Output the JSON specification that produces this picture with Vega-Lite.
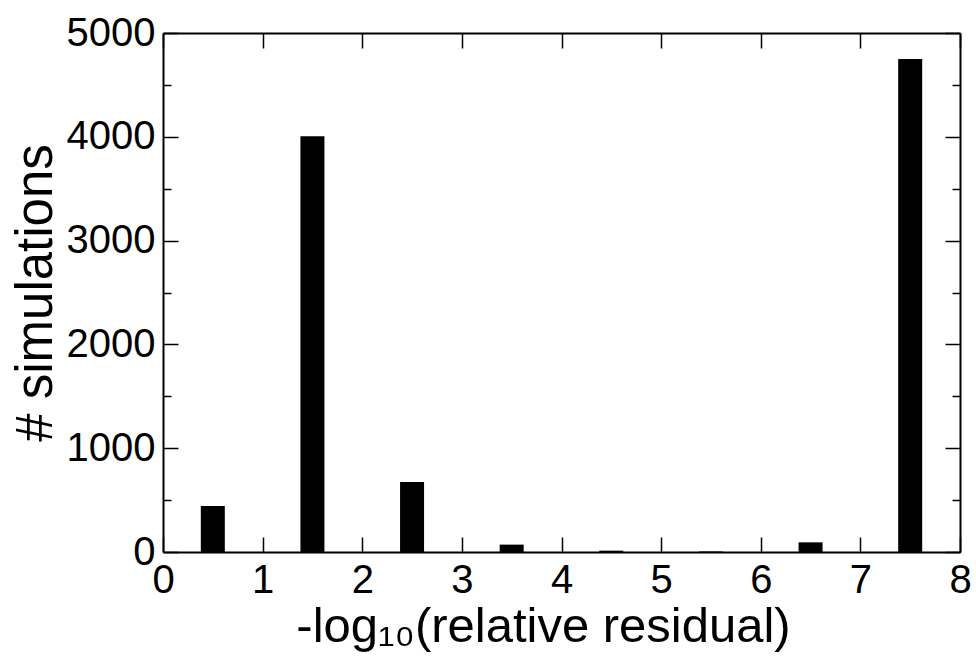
{
  "$schema": "https://vega.github.io/schema/vega-lite/v6.json",
  "width": 797,
  "height": 519,
  "autosize": {"type": "none"},
  "padding": {"left": 163, "top": 33, "right": 16, "bottom": 112},
  "background": "white",
  "data": {
    "values": [
      {"residual": 0.5, "count": 443},
      {"residual": 1.5, "count": 4005},
      {"residual": 2.5, "count": 675},
      {"residual": 3.5, "count": 71},
      {"residual": 4.5, "count": 13},
      {"residual": 5.5, "count": 5},
      {"residual": 6.5, "count": 93},
      {"residual": 7.5, "count": 4749}
    ]
  },
  "config": {
    "view": {"stroke": null},
    "font": "Liberation Sans",
    "axis": {
      "grid": false,
      "domainColor": "#000",
      "domainWidth": 2,
      "tickColor": "#000",
      "tickWidth": 1.5,
      "labelColor": "#000",
      "titleColor": "#000",
      "titleFontWeight": "normal"
    }
  },
  "layer": [
    {
      "mark": {"type": "bar", "width": 24, "color": "#000"},
      "encoding": {
        "x": {
          "field": "residual",
          "type": "quantitative",
          "scale": {"domain": [0, 8], "nice": false, "zero": false, "padding": 0},
          "axis": {
            "orient": "bottom",
            "values": [0, 1, 2, 3, 4, 5, 6, 7, 8],
            "format": "d",
            "tickSize": -15,
            "labelFontSize": 40,
            "labelPadding": 23,
            "labelFlush": false,
            "labelOverlap": false,
            "title": "-log₁₀(relative residual)",
            "titleFontSize": 49,
            "titlePadding": 2,
            "titleX": 380
          }
        },
        "y": {
          "field": "count",
          "type": "quantitative",
          "scale": {"domain": [0, 5000], "nice": false, "padding": 0},
          "axis": {
            "orient": "left",
            "values": [0, 1000, 2000, 3000, 4000, 5000],
            "format": "d",
            "tickSize": -15,
            "labelFontSize": 40,
            "labelPadding": 23,
            "labelFlush": false,
            "labelOverlap": false,
            "title": "# simulations",
            "titleFontSize": 51,
            "titlePadding": 4
          }
        }
      }
    },
    {
      "mark": {"type": "point", "opacity": 0},
      "encoding": {
        "x": {
          "field": "residual",
          "type": "quantitative",
          "axis": {
            "orient": "top",
            "values": [0, 1, 2, 3, 4, 5, 6, 7, 8],
            "tickSize": -15,
            "labels": false,
            "title": null
          }
        },
        "y": {
          "field": "count",
          "type": "quantitative",
          "axis": {
            "orient": "right",
            "values": [0, 1000, 2000, 3000, 4000, 5000],
            "tickSize": -15,
            "labels": false,
            "title": null
          }
        }
      }
    },
    {
      "mark": {"type": "point", "opacity": 0},
      "encoding": {
        "x": {
          "field": "residual",
          "type": "quantitative",
          "axis": null
        },
        "y": {
          "field": "count",
          "type": "quantitative",
          "axis": {
            "orient": "left",
            "values": [500, 1500, 2500, 3500, 4500],
            "tickSize": -8,
            "domain": false,
            "labels": false,
            "title": null
          }
        }
      }
    },
    {
      "mark": {"type": "point", "opacity": 0},
      "encoding": {
        "x": {
          "field": "residual",
          "type": "quantitative",
          "axis": null
        },
        "y": {
          "field": "count",
          "type": "quantitative",
          "axis": {
            "orient": "right",
            "values": [500, 1500, 2500, 3500, 4500],
            "tickSize": -8,
            "domain": false,
            "labels": false,
            "title": null
          }
        }
      }
    }
  ],
  "resolve": {"axis": {"x": "independent", "y": "independent"}}
}
